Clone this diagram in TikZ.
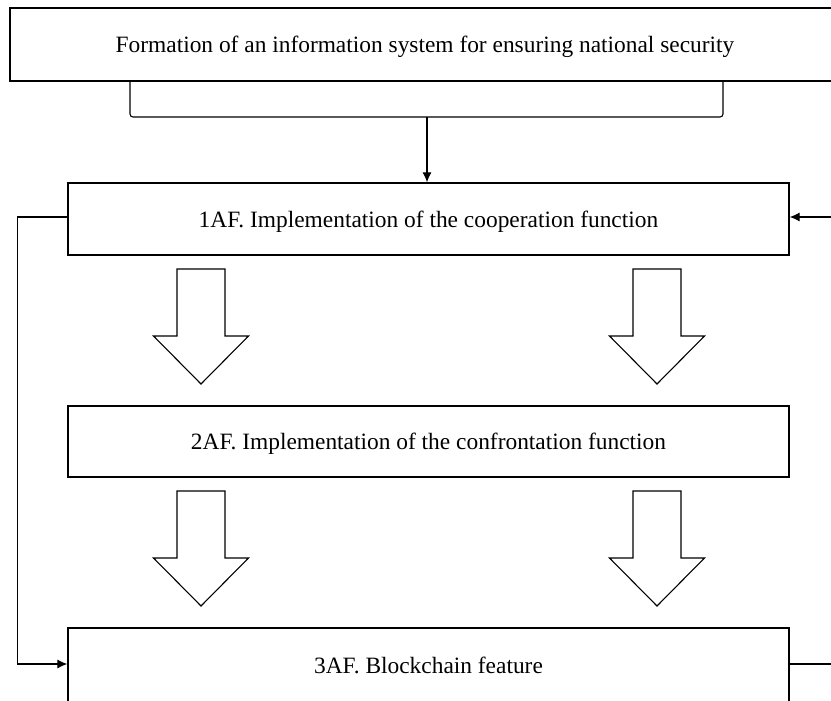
\documentclass[tikz,border=0pt]{standalone}
\usepackage{fontspec}
\setmainfont{Liberation Serif}
\usetikzlibrary{arrows.meta}

\begin{document}
\begin{tikzpicture}[x=1pt, y=-1pt,
 box/.style={draw, line width=1.3pt, inner sep=0, text depth=0pt, font=\fontsize{23.4}{27}\selectfont},
 conn/.style={line width=1.1pt, -{Latex[length=10pt,width=9pt]}},
 wide/.style={draw, line width=1.1pt, fill=white}]
\useasboundingbox (0,0) rectangle (831,701);
\clip (0,0) rectangle (831,701);
\node[box, minimum width=826pt, minimum height=73pt] (goal) at (423,44.5) {\hspace*{4pt}Formation of an information system for ensuring national security};
\node[box, minimum width=721pt, minimum height=72pt] (af1) at (428.5,219) {1AF. Implementation of the cooperation function};
\node[box, minimum width=721pt, minimum height=71pt] (af2) at (428.5,441.5) {2AF. Implementation of the confrontation function};
\node[box, minimum width=721pt, minimum height=75pt] (af3) at (428.5,665.5) {3AF. Blockchain feature};
\coordinate (rin) at (840,217);
\coordinate (rout) at (840,664);
\coordinate (brl) at (130,81);
\coordinate (brr) at (723,81);
\coordinate (brm) at (427,117);
% bracket under the top box
\draw[line width=1.1pt, rounded corners=3pt] (brl) -- (130,117) -- (723,117) -- (brr);
\draw[conn] (brm) -- (brm |- af1.north);
% feedback lines
\draw[conn] (af1.west |- rin) -- (17.5,217) |- (af3.west |- rout);
\draw[conn] (rin) -- (af1.east |- rin);
\draw[line width=1.1pt] (af3.east |- rout) -- (rout);
% block arrows
\foreach \x in {201,657} {
 \foreach \y in {269,491} {
  \draw[wide] (\x-24,\y) -- (\x+24,\y) -- (\x+24,\y+67) -- (\x+47.5,\y+67) -- (\x,\y+115) -- (\x-47.5,\y+67) -- (\x-24,\y+67) -- cycle;
 }
}
\end{tikzpicture}
\end{document}
